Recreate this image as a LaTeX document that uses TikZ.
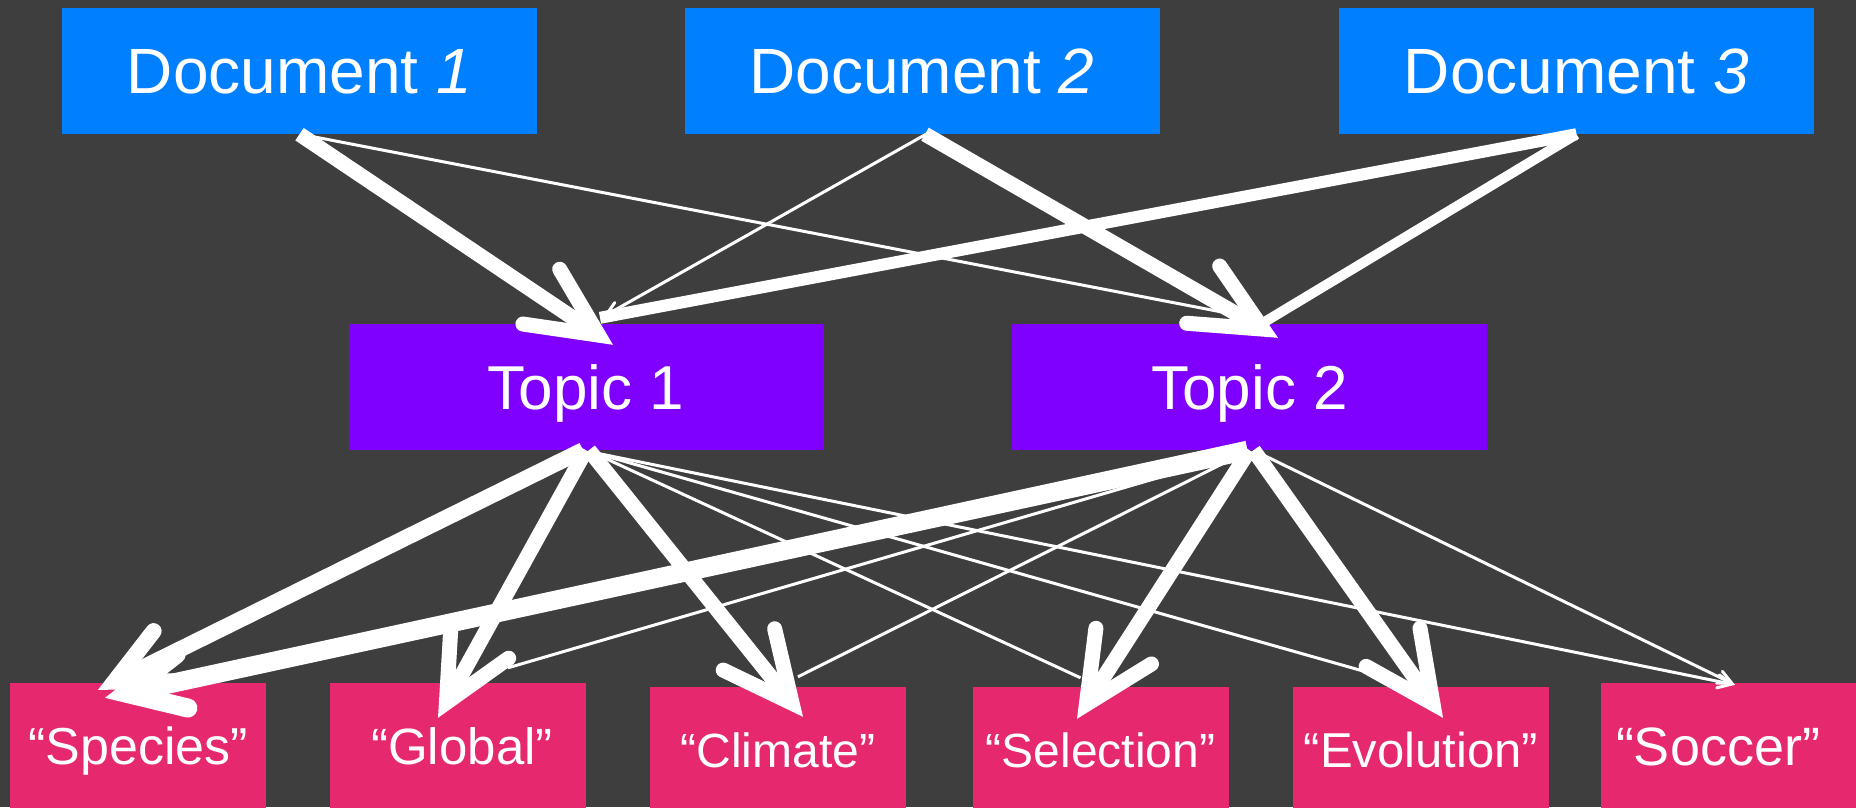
\documentclass[tikz,border=0pt]{standalone}
\usepackage{fontspec}
\setmainfont{Liberation Sans}
\usetikzlibrary{arrows.meta,calc}
\definecolor{bg}{RGB}{62,62,62}
\definecolor{docblue}{RGB}{0,128,255}
\definecolor{topicviolet}{RGB}{128,0,255}
\definecolor{wordpink}{RGB}{230,40,110}

\begin{document}
\begin{tikzpicture}[x=1pt,y=-1pt,
  box/.style={rectangle, inner sep=0pt, text=white, anchor=center, text depth=0pt},
  size/.style 2 args={font=\fontsize{#1}{#1}\selectfont, text height=#2},
  docbox/.style={box, fill=docblue, minimum width=475pt, minimum height=126pt,
    size={64pt}{45.8pt}},
  topicbox/.style={box, fill=topicviolet, minimum width=475pt, minimum height=126pt,
    size={62pt}{44.4pt}},
  wordbox/.style={box, fill=wordpink, minimum width=256pt, minimum height=126pt},
  barb/.tip={Straight Barb[length=0pt 4.6, width=0pt 4.4, line cap=round, line join=miter]},
  link/.style={draw=white, line cap=butt, -barb},
  bare/.style={draw=white, line cap=butt},
  thin/.style={line width=3pt},
]
\useasboundingbox (0,0) rectangle (1856,807);
\fill[bg] (0,0) rectangle (1856,807);

% documents
\node[docbox] (d1) at (299.5,71) {Document \textit{1}};
\node[docbox] (d2) at (922,71) {Document \textit{2}};
\node[docbox] (d3) at (1576.5,71) {Document \textit{3}};

% topics
\node[topicbox] (t1) at (586,387) {Topic 1};
\node[topicbox] (t2) at (1249.5,387) {Topic 2};

% words
\node[wordbox, size={52pt}{37.2pt}] (w1) at (138,746) {“Species”};
\node[wordbox, size={51pt}{36.5pt}] (w2) at (458,746) {\hspace*{8pt}“Global”};
\node[wordbox, size={48pt}{34.4pt}] (w3) at (778,750) {“Climate”};
\node[wordbox, size={48pt}{34.4pt}] (w4) at (1100.5,750) {“Selection”};
\node[wordbox, size={49pt}{35.1pt}] (w5) at (1421,750) {“Evolution”};
\node[wordbox, size={54pt}{38.7pt}] (w6) at (1728.5,746) {“Soccer”\hspace*{21pt}};

% weak links
\draw[link, thin] ($(d1.south)+(6,1)$) -- ($(t2.north)+(2.5,-6)$);
\draw[link, thin] ($(d2.south)+(4,0)$) -- ($(t1.north)+(17,-7)$);
\draw[bare, thin] ($(t1.south)+(6,2)$) -- ($(w4.north)+(-20,-9)$);
\draw[bare, thin] ($(t1.south)+(6,2)$) -- ($(w5.north)+(-48,-13)$);
\draw[link, thin] ($(t1.south)+(6,2)$) -- ($(w6.north)+(6.5,2)$);
\draw[bare, thin] ($(t2.south)+(-4,2)$) -- ($(w2.north)+(50,-15)$);
\draw[bare, thin] ($(t2.south)+(-4,2)$) -- ($(w3.north)+(20,-10)$);
\draw[link, thin] ($(t2.south)+(8,2)$) -- ($(w6.north)+(6.5,2)$);

% medium links from document 3
\draw[bare, line width=12pt] (d3.south) -- ($(t1.north)+(14,-6)$);
\draw[bare, line width=10pt] (d3.south) -- ($(t2.north)+(12,0)$);

% strong links
\draw[link, line width=15pt] (d1.south) -- ($(t1.north)+(27,21)$);
\draw[link, line width=15pt] ($(d2.south)+(3,0)$) -- ($(t2.north)+(28.5,14)$);
\draw[draw=white, line cap=butt, line width=16pt,
  -{Straight Barb[length=0pt 3.6, width=0pt 3.5, line cap=round, line join=miter]}]
  ($(t1.south)+(-3,0)$) -- ($(w1.north)+(-40,7)$);
\draw[draw=white, line cap=butt, line width=19pt,
  -{Straight Barb[length=0pt 3.0, width=0pt 2.9, line cap=round, line join=miter]}]
  ($(t2.south)+(-2,0)$) -- ($(w1.north)+(-33,15)$);
\draw[link, line width=15pt] (t1.south) -- ($(w2.north)+(-20,35)$);
\draw[link, line width=15pt] ($(t1.south)+(3,0)$) -- ($(w3.north)+(25,30)$);
\draw[link, line width=15pt] (t2.south) -- ($(w4.north)+(-23.5,32)$);
\draw[link, line width=15pt] ($(t2.south)+(4,0)$) -- ($(w5.north)+(22,31)$);
\end{tikzpicture}
\end{document}
